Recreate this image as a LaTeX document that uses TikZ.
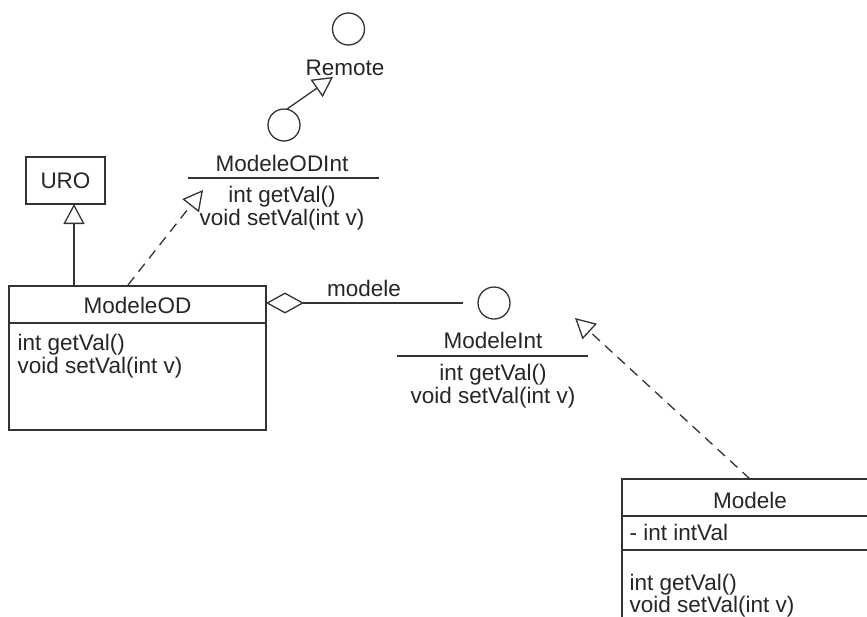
\documentclass[tikz,border=0pt]{standalone}
\usepackage{fontspec}
\setmainfont{Liberation Sans}
\usetikzlibrary{arrows.meta}
\begin{document}
\begin{tikzpicture}[x=1pt,y=-1pt,
  line width=1.3pt, draw=black!80,
  every node/.style={font=\fontsize{22.5}{24}\selectfont, text=black!85},
  ctxt/.style={inner sep=0pt, anchor=base},
  ltxt/.style={inner sep=0pt, anchor=base west},
  box/.style={draw, rectangle, inner sep=0pt, outer sep=0pt},
  iface/.style={draw, circle, minimum size=32pt, inner sep=0pt, outer sep=0pt},
  opentri/.style={-{Triangle[open,length=20pt,width=21pt]}},
  realize/.style={opentri, dash pattern=on 10pt off 7pt},
  aggr/.style={{Diamond[open,length=38pt,width=21pt]}-}]

\useasboundingbox (0,0) rectangle (867,616);
\clip (0,0) rectangle (867,616);

% --- Remote interface ---
\node[iface] (remote) at (348.5,29) {};
\node[ctxt] (remotelbl) at (345,75) {Remote};
\coordinate (remotetip) at (333,77);

% --- ModeleODInt interface ---
\node[iface] (odi) at (284,125) {};
\node[ctxt] (odiname) at (282,171) {ModeleODInt};
\coordinate (odiL) at (188,178);
\coordinate (odiR) at (379,178);
\draw (odiL) -- (odiR);
\node[ctxt] (odim1) at (282,202) {int getVal()};
\node[ctxt] (odim2) at (282,225) {void setVal(int v)};
\coordinate (oditip) at (203,190);

% --- URO class ---
\node[box, minimum width=79pt, minimum height=47pt] (uro) at (65.5,180.5) {URO};
\coordinate (urotip) at (74,204);

% --- ModeleOD class ---
\node[box, minimum width=257pt, minimum height=144pt] (od) at (137.5,358) {};
\draw (od.west |- 0,323) -- (od.east |- 0,323);
\node[ctxt] (odname) at (137.5,313) {ModeleOD};
\node[ltxt] (odm1) at (17,350) {int getVal()};
\node[ltxt] (odm2) at (17,373) {void setVal(int v)};
\coordinate (odtopA) at (74,286);
\coordinate (odtopB) at (128,285);
\coordinate (odagg) at (266,303);

% --- ModeleInt interface ---
\node[iface] (mi) at (494,303) {};
\node[ctxt] (miname) at (493,348) {ModeleInt};
\coordinate (miL) at (397,356);
\coordinate (miR) at (588,356);
\draw (miL) -- (miR);
\node[ctxt] (mim1) at (493,380) {int getVal()};
\node[ctxt] (mim2) at (493,403) {void setVal(int v)};
\coordinate (mitip) at (575,318);

% --- Modele class ---
\node[box, minimum width=258pt, minimum height=170pt] (m) at (751,564) {};
\draw (m.west |- 0,516) -- (m.east |- 0,516);
\draw (m.west |- 0,550) -- (m.east |- 0,550);
\node[ctxt] (mname) at (750,508) {Modele};
\node[ltxt] (mattr) at (629,540) {- int intVal};
\node[ltxt] (mm1) at (629,590) {int getVal()};
\node[ltxt] (mm2) at (629,612) {void setVal(int v)};
\coordinate (mtop) at (750,479);

% --- relations ---
\draw[opentri] (odi.north) ++(3,0) -- (remotetip);
\draw[opentri] (odtopA) -- (urotip);
\draw[realize] (odtopB) -- (oditip);
\draw[aggr, shorten >=15pt] (odagg) -- (mi);
\node[ctxt] (agglbl) at (364,296) {modele};
\draw[realize] (mtop) -- (mitip);
\end{tikzpicture}
\end{document}
